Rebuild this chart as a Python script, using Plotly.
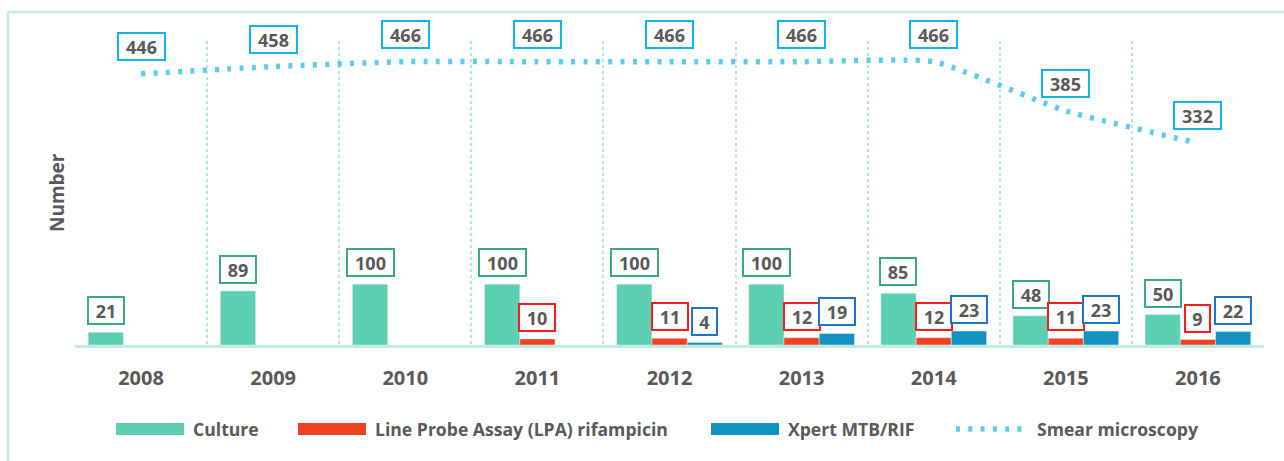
import plotly.graph_objects as go

# Tests performed per year
years = ["2008", "2009", "2010", "2011", "2012", "2013", "2014", "2015", "2016"]
culture = [21, 89, 100, 100, 100, 100, 85, 48, 50]
lpa_rif = [None, None, None, 10, 11, 12, 12, 11, 9]
xpert = [None, None, None, None, 4, 19, 23, 23, 22]
smear = [446, 458, 466, 466, 466, 466, 466, 385, 332]

series_names = ["Culture", "Line Probe Assay (LPA) rifampicin", "Xpert MTB/RIF", "Smear microscopy"]

W, H = 1284, 461
M_L, M_R, M_T, M_B = 75, 20, 41, 116
PW, PH = W - M_L - M_R, H - M_T - M_B

TEXT = "#595959"
FONT = "Open Sans"
C_CULT, C_LPA, C_XP, C_SM = "#5ccfb0", "#f04124", "#1391c0", "#5ccaf2"
B_CULT, B_LPA, B_XP, B_SM = "#3aa889", "#ff1a1a", "#1f74c8", "#12b2ef"
FRAME = "#c2ebe2"
DOTS = "4px,8.3px"

x = list(range(len(years)))
BARGAP = 0.2
slot = (1 - BARGAP) / 3  # width of one bar inside a group


def px_x(px):
    return (px - M_L) / PW


def px_y(py):
    return (H - M_B - py) / PH


fig = go.Figure()
fig.add_trace(go.Bar(x=x, y=culture, name=series_names[0], marker_color=C_CULT))
fig.add_trace(go.Bar(x=x, y=lpa_rif, name=series_names[1], marker_color=C_LPA))
fig.add_trace(go.Bar(x=x, y=xpert, name=series_names[2], marker_color=C_XP))
fig.add_trace(go.Scatter(x=x, y=smear, name=series_names[3], mode="lines",
                         line=dict(color=C_SM, width=5.5, dash=DOTS,
                                   shape="spline", smoothing=0.45)))

annotations = []


def boxed(xv, yv, val, border, yshift):
    s = str(val)
    annotations.append(dict(
        x=xv, y=yv, xref="x", yref="y", text="<b>%s</b>" % s,
        showarrow=False, yanchor="bottom", xanchor="center", yshift=yshift,
        font=dict(family=FONT, size=18, color=TEXT),
        bordercolor=border, borderwidth=2, borderpad=1, bgcolor="white",
        width=11 * len(s) + 10, height=23,
    ))


for offset, vals, border in ((-slot, culture, B_CULT), (0, lpa_rif, B_LPA), (slot, xpert, B_XP)):
    for i, v in enumerate(vals):
        if v is not None:
            boxed(x[i] + offset, v, v, border, 7)
for i, v in enumerate(smear):
    boxed(x[i], v, v, B_SM, 13)

# Legend drawn as wide swatches with labels
shapes = []
legend_y = 429
LEG_FONT = dict(family=FONT, size=17.6, color=TEXT)
swatches = [(116, C_CULT, 191), (298, C_LPA, 373), (711, C_XP, 786)]
for (sx, col, tx), name in zip(swatches, series_names[:3]):
    shapes.append(dict(type="rect", xref="paper", yref="paper",
                       x0=px_x(sx), x1=px_x(sx + 68), y0=px_y(legend_y + 6), y1=px_y(legend_y - 6),
                       fillcolor=col, line=dict(width=0), layer="above"))
    annotations.append(dict(xref="paper", yref="paper", x=px_x(tx), y=px_y(legend_y),
                            xanchor="left", yanchor="middle", showarrow=False,
                            text="<b>%s</b>" % name, font=LEG_FONT))
shapes.append(dict(type="line", xref="paper", yref="paper",
                   x0=px_x(956), x1=px_x(1024), y0=px_y(legend_y), y1=px_y(legend_y),
                   line=dict(color=C_SM, width=5.5, dash=DOTS)))
annotations.append(dict(xref="paper", yref="paper", x=px_x(1035), y=px_y(legend_y),
                        xanchor="left", yanchor="middle", showarrow=False,
                        text="<b>%s</b>" % series_names[3], font=LEG_FONT))

# Outer frame (left and top edges)
shapes.append(dict(type="line", xref="paper", yref="paper", x0=px_x(8), x1=px_x(8),
                   y0=px_y(12), y1=px_y(H + 5), line=dict(color=FRAME, width=2.5)))
shapes.append(dict(type="line", xref="paper", yref="paper", x0=px_x(8), x1=px_x(W + 5),
                   y0=px_y(12), y1=px_y(12), line=dict(color=FRAME, width=2.5)))

# Axis title
annotations.append(dict(xref="paper", yref="paper", x=px_x(57), y=px_y(193),
                        xanchor="center", yanchor="middle", showarrow=False, textangle=-90,
                        text="<b>Number</b>", font=dict(family=FONT, size=19, color=TEXT)))

fig.update_layout(
    width=W, height=H,
    margin=dict(l=M_L, r=M_R, t=M_T, b=M_B, pad=0),
    paper_bgcolor="white", plot_bgcolor="white",
    barmode="group", bargap=BARGAP, bargroupgap=0,
    showlegend=False,
    annotations=annotations, shapes=shapes,
    xaxis=dict(range=[-0.5, len(years) - 0.5], tickvals=x,
               ticktext=["<b>%s</b>" % y for y in years],
               tickfont=dict(family=FONT, size=20, color=TEXT),
               ticks="outside", ticklen=13, tickcolor="rgba(0,0,0,0)",
               showgrid=False, zeroline=False,
               showline=True, linecolor=FRAME, linewidth=2.5,
               minor=dict(tickvals=[i - 0.5 for i in range(len(years) + 1)],
                          showgrid=True, gridcolor="#b5e6dc", gridwidth=1.5, griddash="dot",
                          ticks="")),
    yaxis=dict(range=[0, 500], showticklabels=False, showgrid=False, zeroline=False,
               showline=False, ticks=""),
)

fig.write_html("out.html")
